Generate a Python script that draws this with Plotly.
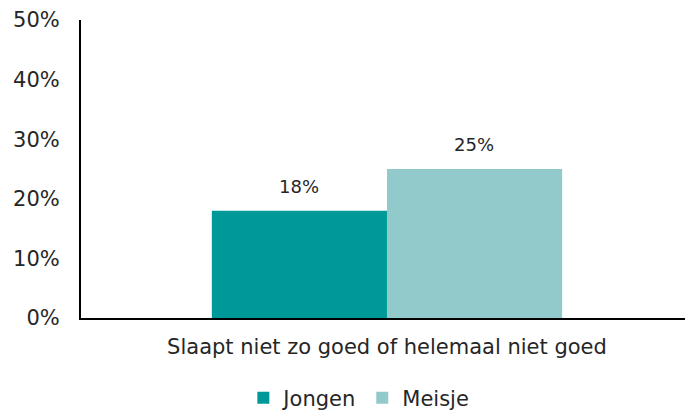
import plotly.graph_objects as go

categories = ["Slaapt niet zo goed of helemaal niet goed"]
series_names = ["Jongen", "Meisje"]
jongen = [0.18]
meisje = [0.25]
colors = ["#009999", "#92C9CA"]
tick_vals = [0, 0.1, 0.2, 0.3, 0.4, 0.5]

FONT = "DejaVu Sans"
TXT = "#262626"

fig = go.Figure()
for name, vals, col in zip(series_names, [jongen, meisje], colors):
    fig.add_trace(go.Bar(x=categories, y=vals, name=name, marker_color=col,
                         marker_line_width=0))

annotations = []
for i, (name, vals) in enumerate(zip(series_names, [jongen, meisje])):
    for c, v in zip(categories, vals):
        annotations.append(dict(
            x=c, y=v, text=f"{round(v*100)}%", showarrow=False,
            xref="x", yref="y", yanchor="bottom", yshift=12,
            xshift=(-87.5 if i == 0 else 87.5),
            font=dict(family=FONT, size=18, color=TXT)))

fig.update_layout(
    width=687, height=412,
    margin=dict(l=81, r=2, t=20, b=94, autoexpand=False),
    paper_bgcolor="white", plot_bgcolor="white",
    barmode="group", bargap=0.42, bargroupgap=0,
    font=dict(family=FONT, color=TXT),
    showlegend=True,
    legend=dict(orientation="h", x=0.46, xanchor="center", y=-0.2, yanchor="top",
                font=dict(family=FONT, size=21, color=TXT),
                itemsizing="constant", traceorder="normal"),
    annotations=annotations,
)
fig.update_xaxes(showline=True, linecolor="black", linewidth=2, showgrid=False,
                 automargin=False, range=[-0.5066, 0.4934],
                 ticks="outside", ticklen=9, tickcolor="white",
                 tickfont=dict(family=FONT, size=21, color=TXT))
fig.update_yaxes(range=[0, 0.5], tickvals=tick_vals, tickformat=".0%",
                 automargin=False,
                 showline=True, linecolor="black", linewidth=2, showgrid=False,
                 zeroline=False, ticks="outside", ticklen=15, tickcolor="white",
                 tickfont=dict(family=FONT, size=21, color=TXT))

fig.write_html("out.html", config={"displayModeBar": False},
               post_script="document.body.style.margin='0';document.body.style.overflow='hidden';")
